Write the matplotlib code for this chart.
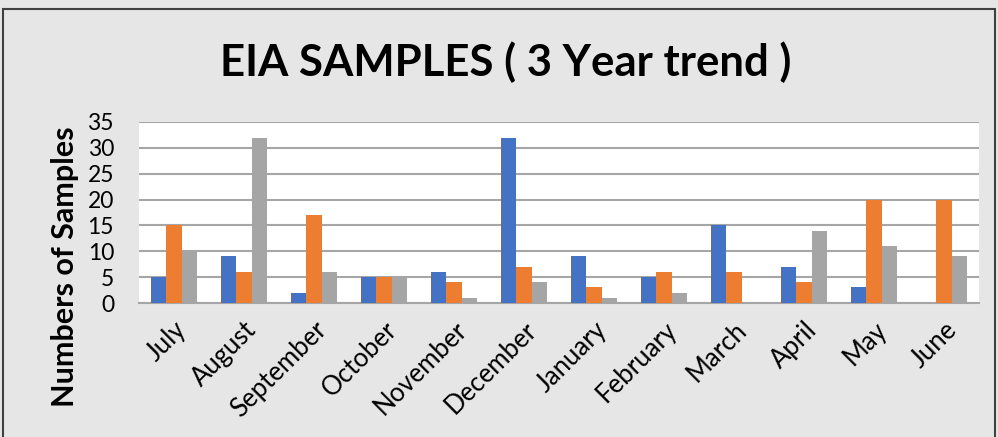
import matplotlib
matplotlib.use("Agg")
import matplotlib.pyplot as plt
import numpy as np
from matplotlib.patches import Rectangle

months = ["July", "August", "September", "October", "November", "December",
          "January", "February", "March", "April", "May", "June"]
series_a = [5, 9, 2, 5, 6, 32, 9, 5, 15, 7, 3, 0]
series_b = [15, 6, 17, 5, 4, 7, 3, 6, 6, 4, 20, 20]
series_c = [10, 32, 6, 5, 1, 4, 1, 2, 0, 14, 11, 9]
yticks = [0, 5, 10, 15, 20, 25, 30, 35]

colors = ["#4472C4", "#ED7D31", "#A5A5A5"]
W, H = 998, 437
fig = plt.figure(figsize=(W / 100, H / 100), dpi=100)
fig.patch.set_facecolor("#E6E6E6")
fig.patches.append(Rectangle((3 / W, -0.05), (995 - 3) / W, 1 - 9 / H + 0.05,
                             transform=fig.transFigure, fill=False,
                             edgecolor="#404040", linewidth=1.5))

ax = fig.add_axes([139 / W, 1 - 303 / H, (979 - 139) / W, (303 - 122) / H])
ax.set_facecolor("white")
x = np.arange(len(months))
bw = 0.215
for i, s in enumerate([series_a, series_b, series_c]):
    ax.bar(x + (i - 1) * bw, s, width=bw, color=colors[i], zorder=3)
ax.set_xlim(-0.5, len(months) - 0.5)
ax.set_ylim(0, 35)
ax.set_yticks(yticks)
ax.grid(axis="y", color="#A6A6A6", linewidth=1.5, zorder=0)
for sp in ["top", "right", "left"]:
    ax.spines[sp].set_visible(False)
ax.spines["bottom"].set_color("#A6A6A6")
ax.spines["bottom"].set_linewidth(1.5)
ax.tick_params(axis="both", length=0)
ax.tick_params(axis="y", labelsize=16.5, pad=18)
ax.set_yticklabels([str(v) for v in yticks], fontfamily="Lato")
ax.set_xticks(x)
ax.set_xticklabels(months, rotation=45, ha="right", rotation_mode="anchor",
                   fontsize=18.5, fontfamily="Lato")
ax.tick_params(axis="x", pad=10)
ax.set_ylabel("Numbers of Samples", fontsize=22, fontweight="bold",
              fontfamily="Lato")
ax.yaxis.set_label_coords(-0.088, 0.199)
ax.yaxis.label.set_va("center")
fig.text(506 / W, 1 - 62 / H, "EIA SAMPLES ( 3 Year trend )", ha="center",
         va="center", fontsize=31.5, fontweight="bold", fontfamily="Lato")
fig.savefig("out.png", dpi=100, facecolor=fig.get_facecolor())
